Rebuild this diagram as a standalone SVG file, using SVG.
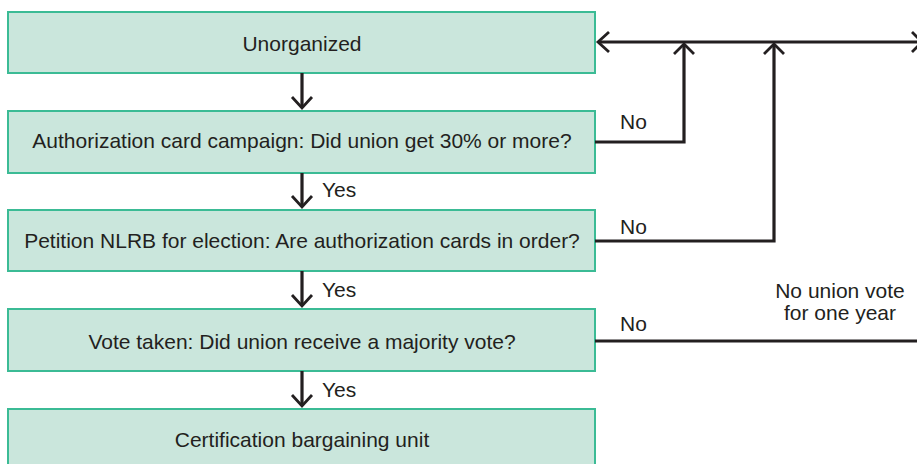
<svg xmlns="http://www.w3.org/2000/svg" width="917" height="464" viewBox="0 0 917 464">
<style>
.box{fill:#cae6dc;stroke:#3bbb95;stroke-width:2}
.t{font-family:"Liberation Sans",Arial,sans-serif;font-size:21px;fill:#231f20}
.c{text-anchor:middle}
.ln{fill:none;stroke:#231f20;stroke-width:3.2}
.ah{fill:none;stroke:#231f20;stroke-width:2.8}
</style>
<rect width="917" height="464" fill="#fff"/>
<g id="n1"><rect class="box" x="8" y="12" width="587" height="61"/><text class="t c" x="302" y="51">Unorganized</text></g>
<g id="n2"><rect class="box" x="8" y="111" width="587" height="62"/><text class="t c" x="302" y="148">Authorization card campaign: Did union get 30% or more?</text></g>
<g id="n3"><rect class="box" x="8" y="210" width="587" height="61"/><text class="t c" x="302" y="248">Petition NLRB for election: Are authorization cards in order?</text></g>
<g id="n4"><rect class="box" x="8" y="309" width="587" height="62"/><text class="t c" x="302" y="349">Vote taken: Did union receive a majority vote?</text></g>
<g id="n5"><rect class="box" x="8" y="409" width="587" height="60"/><text class="t c" x="302" y="447">Certification bargaining unit</text></g>
<g id="connectors">
<path class="ln" d="M302 73V107"/><path class="ah" d="M292 97L302 108L312 97"/>
<path class="ln" d="M302 173V206"/><path class="ah" d="M292 196L302 207L312 196"/>
<path class="ln" d="M302 271V305"/><path class="ah" d="M292 295L302 306L312 295"/>
<path class="ln" d="M302 371V405"/><path class="ah" d="M292 395L302 406L312 395"/>
<path class="ln" d="M598 42H917"/><path class="ah" d="M609 32L598 42L609 52"/>
<path class="ah" d="M912 32L922 42L912 52"/>
<path class="ln" d="M595 142H684V44"/><path class="ah" d="M674 54L684 44L694 54"/>
<path class="ln" d="M595 241H774V44"/><path class="ah" d="M764 54L774 44L784 54"/>
<path class="ln" d="M595 341H917"/>
<text class="t" x="620" y="129">No</text>
<text class="t" x="620" y="234">No</text>
<text class="t" x="620" y="331">No</text>
<text class="t" x="322" y="197">Yes</text>
<text class="t" x="322" y="297">Yes</text>
<text class="t" x="322" y="397">Yes</text>
<text class="t c" x="840" y="298">No union vote</text>
<text class="t c" x="840" y="320">for one year</text>
</g>
</svg>
